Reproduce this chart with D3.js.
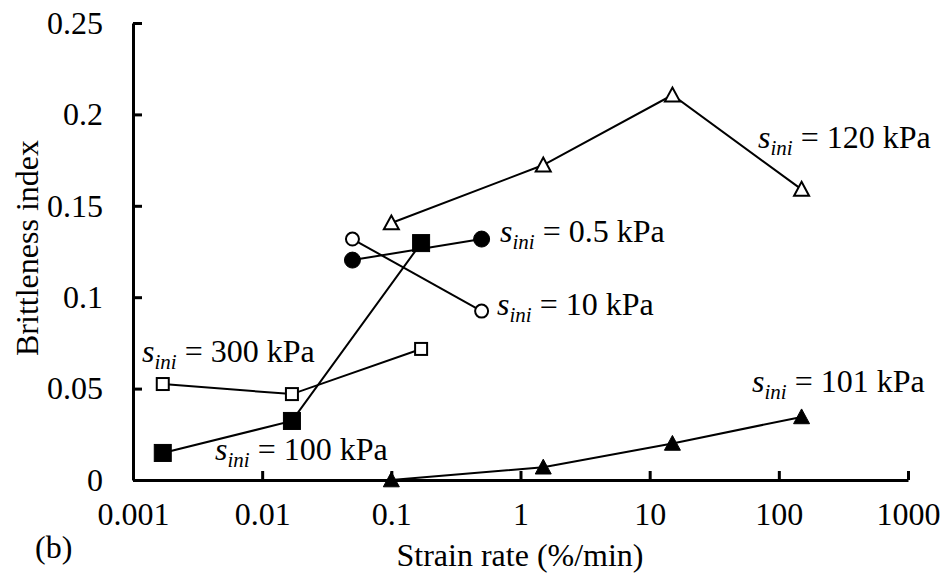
<!DOCTYPE html>
<html>
<head>
<meta charset="utf-8">
<script src="https://cdn.jsdelivr.net/npm/d3@7"></script>
<style>
  body { margin: 0; background: #fff; }
  svg { display: block; }
  text { font-family: "Liberation Serif", "Times New Roman", serif; fill: #000; }
</style>
</head>
<body>
<svg id="chart" width="945" height="579"></svg>
<script>
// strain rate ticks (x) and brittleness ticks (y)
const xTicks = [0.001, 0.01, 0.1, 1, 10, 100, 1000];
const xTickLabels = ["0.001", "0.01", "0.1", "1", "10", "100", "1000"];
const yTicks = [0, 0.05, 0.1, 0.15, 0.2, 0.25];
const yTickLabels = ["0", "0.05", "0.1", "0.15", "0.2", "0.25"];

// series: strain rate (%/min) and brittleness index
const rate120 = [0.1, 1.5, 15, 150];
const bi120 = [0.1406, 0.1723, 0.2106, 0.159];
const rate05 = [0.05, 0.5];
const bi05 = [0.1203, 0.1318];
const rate10 = [0.05, 0.5];
const bi10 = [0.1318, 0.0924];
const rate300 = [0.0017, 0.017, 0.17];
const bi300 = [0.0525, 0.047, 0.0717];
const rate100 = [0.0017, 0.017, 0.17];
const bi100 = [0.0148, 0.0323, 0.1296];
const rate101 = [0.1, 1.5, 15, 150];
const bi101 = [0, 0.007, 0.02, 0.0345];

const seriesLabels = ["120 kPa", "0.5 kPa", "10 kPa", "300 kPa", "100 kPa", "101 kPa"];

const svg = d3.select("#chart");
const plotLeft = 133, plotRight = 908, plotTop = 23, plotBottom = 480;
const fontSize = 32;

const x = d3.scaleLog().domain([0.001, 1000]).range([plotLeft, plotRight]);
const y = d3.scaleLinear().domain([0, 0.25]).range([plotBottom, plotTop]);

const series = [
  { rate: rate120, bi: bi120, marker: "triangle", fill: "#fff", size: 15 },
  { rate: rate05, bi: bi05, marker: "circle", fill: "#000", size: 16 },
  { rate: rate10, bi: bi10, marker: "circle", fill: "#fff", size: 13 },
  { rate: rate300, bi: bi300, marker: "square", fill: "#fff", size: 12 },
  { rate: rate100, bi: bi100, marker: "square", fill: "#000", size: 17 },
  { rate: rate101, bi: bi101, marker: "triangle", fill: "#000", size: 16 }
];

// axes
const xAxis = d3.axisBottom(x)
  .tickValues(xTicks)
  .tickFormat((d, i) => xTickLabels[i])
  .tickSizeInner(-9).tickSizeOuter(0).tickPadding(22);
const yAxis = d3.axisLeft(y)
  .tickValues(yTicks)
  .tickFormat((d, i) => yTickLabels[i])
  .tickSizeInner(-9).tickSizeOuter(0).tickPadding(30);

const gx = svg.append("g").attr("transform", `translate(0,${plotBottom})`).call(xAxis);
const gy = svg.append("g").attr("transform", `translate(${plotLeft},0)`).call(yAxis);
[gx, gy].forEach(g => {
  g.select(".domain").attr("stroke", "#000").attr("stroke-width", 3);
  g.selectAll(".tick line").attr("stroke", "#000").attr("stroke-width", 3);
  g.selectAll(".tick text").attr("font-size", fontSize)
    .attr("font-family", '"Liberation Serif", "Times New Roman", serif').attr("fill", "#000");
});

// lines
const line = d3.line().x(d => x(d[0])).y(d => y(d[1]));
series.forEach(s => {
  const pts = s.rate.map((r, i) => [r, s.bi[i]]);
  svg.append("path").datum(pts)
    .attr("d", line).attr("fill", "none").attr("stroke", "#000").attr("stroke-width", 2);
});

// markers
series.forEach(s => {
  const pts = s.rate.map((r, i) => [r, s.bi[i]]);
  const g = svg.append("g");
  const h = s.size / 2;
  pts.forEach(p => {
    const cx = x(p[0]), cy = y(p[1]);
    let el;
    if (s.marker === "circle") {
      el = g.append("circle").attr("cx", cx).attr("cy", cy).attr("r", h);
    } else if (s.marker === "square") {
      el = g.append("rect").attr("x", cx - h).attr("y", cy - h).attr("width", s.size).attr("height", s.size);
    } else {
      el = g.append("path").attr("d", `M${cx},${cy - h}L${cx + h},${cy + h * 0.85}L${cx - h},${cy + h * 0.85}Z`);
    }
    el.attr("fill", s.fill).attr("stroke", "#000").attr("stroke-width", s.fill === "#fff" ? 2 : 1);
  });
});

// annotations
const notes = [
  { label: seriesLabels[0], tx: 758, ty: 148 },
  { label: seriesLabels[1], tx: 500, ty: 242 },
  { label: seriesLabels[2], tx: 497, ty: 315 },
  { label: seriesLabels[3], tx: 142, ty: 362 },
  { label: seriesLabels[4], tx: 215, ty: 460 },
  { label: seriesLabels[5], tx: 752, ty: 392 }
];
notes.forEach(n => {
  const t = svg.append("text").attr("x", n.tx).attr("y", n.ty).attr("font-size", fontSize);
  t.append("tspan").attr("font-style", "italic").text("s");
  t.append("tspan").attr("font-style", "italic").attr("font-size", 21).attr("dy", 7).text("ini");
  t.append("tspan").attr("dy", -7).text(" = " + n.label);
});

// axis titles
svg.append("text").attr("x", 520).attr("y", 566).attr("text-anchor", "middle")
  .attr("font-size", fontSize).text("Strain rate (%/min)");
svg.append("text").attr("transform", "translate(38,248) rotate(-90)").attr("text-anchor", "middle")
  .attr("font-size", fontSize).text("Brittleness index");
svg.append("text").attr("x", 35).attr("y", 558).attr("font-size", fontSize).text("(b)");
</script>
</body>
</html>
